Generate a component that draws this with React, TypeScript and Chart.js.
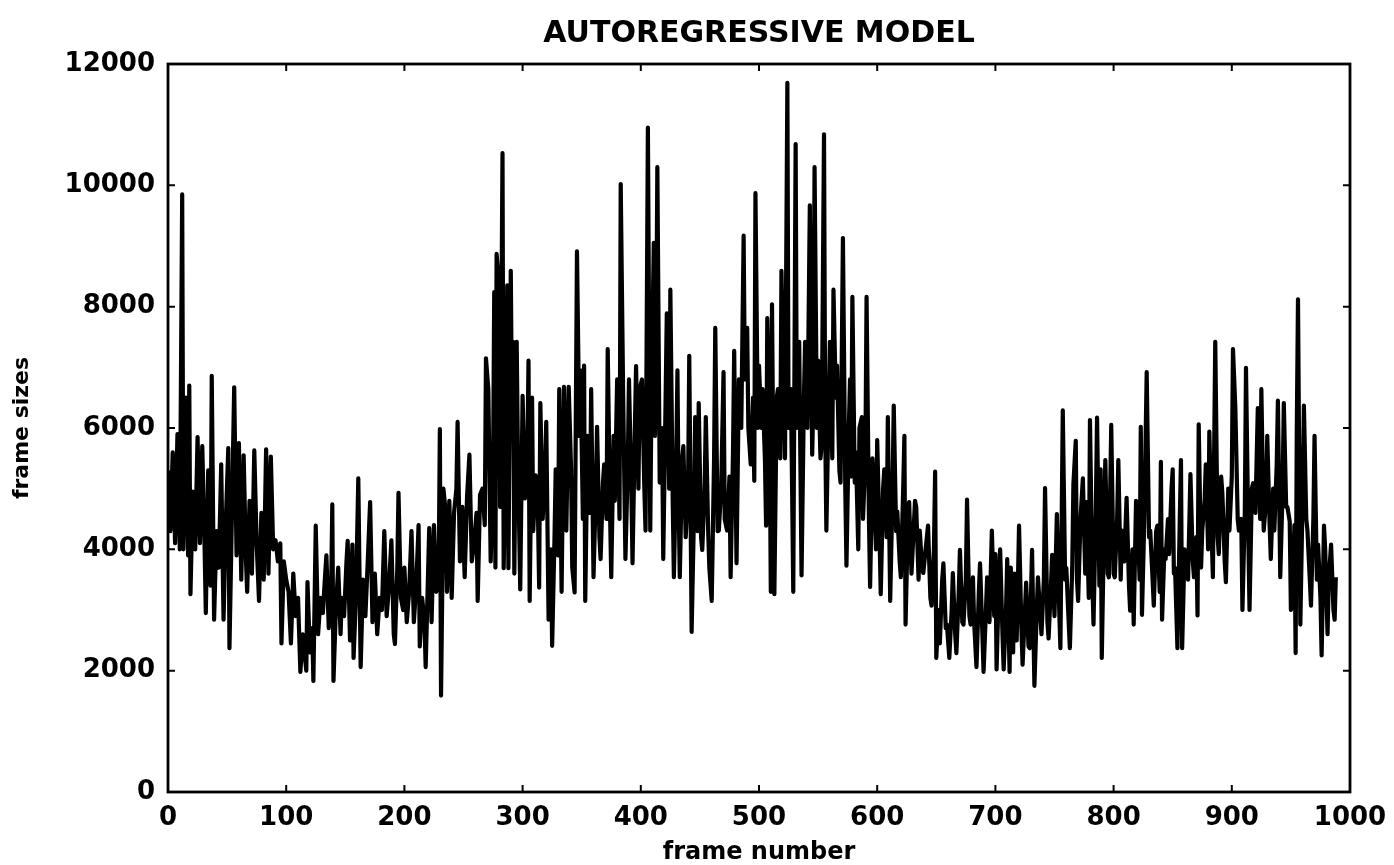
import React, { useEffect, useRef } from "react";
import { Chart, registerables } from "chart.js";

Chart.register(...registerables);

const TITLE = "AUTOREGRESSIVE MODEL";
const X_LABEL = "frame number";
const Y_LABEL = "frame sizes";
const X_TICKS = [0, 100, 200, 300, 400, 500, 600, 700, 800, 900, 1000];
const Y_TICKS = [0, 2000, 4000, 6000, 8000, 10000, 12000];

// [frame number, frame size] samples
const seg0to250: [number, number][] = [
  [0, 5300], [2, 4300], [4, 5600], [6, 4100], [8, 5900], [10, 4000], [12, 9850], [13, 4000],
  [15, 6500], [17, 3900], [18, 6700], [19, 3260], [21, 4950], [23, 4000], [25, 5850], [27, 4100],
  [29, 5700], [31, 4000], [32, 2950], [34, 5300], [36, 3400], [37, 6860], [39, 2840], [41, 4300],
  [43, 3700], [45, 5400], [47, 2840], [49, 4500], [51, 5670], [52, 2370], [54, 4500], [56, 6670],
  [58, 3900], [60, 5750], [62, 3500], [64, 5550], [66, 3800], [67, 3300], [69, 4800], [71, 3600],
  [73, 5630], [75, 4100], [77, 3150], [79, 4600], [81, 3500], [83, 5650], [85, 3600], [87, 5530],
  [89, 4000], [91, 4150], [93, 3800], [95, 4100], [96, 2450], [98, 3800], [100, 3500], [102, 3300],
  [104, 2450], [106, 3600], [108, 2900], [110, 3200], [112, 1980], [114, 2600], [116, 2200], [117, 2000],
  [118, 3460], [120, 2300], [122, 2700], [123, 1830], [125, 4390], [127, 2600], [129, 3200], [131, 2950],
  [133, 3600], [134, 3900], [136, 2700], [138, 3300], [139, 4740], [140, 1830], [142, 3000], [144, 3700],
  [146, 2600], [147, 3200], [149, 2900], [151, 3800], [152, 4140], [154, 2500], [156, 4080], [157, 2210],
  [159, 3200], [161, 5170], [163, 2060], [165, 3500], [167, 2900], [169, 3800], [171, 4780], [173, 2800],
  [175, 3600], [177, 2600], [179, 3200], [181, 3000], [183, 4300], [185, 2900], [187, 3400], [189, 4150],
  [191, 2600], [192, 2440], [194, 3700], [195, 4930], [197, 3200], [199, 3000], [200, 3700], [202, 2800],
  [204, 3300], [206, 4300], [208, 2800], [210, 3400], [212, 4400], [213, 2400], [215, 3200], [217, 2800],
  [218, 2060], [220, 3600], [221, 4350], [223, 2800], [225, 4400], [227, 3300], [229, 3600], [230, 5980],
  [231, 1590], [233, 5000], [235, 4600], [236, 3300], [238, 4800], [240, 3200], [242, 4600], [244, 5000],
  [245, 6100], [247, 3800], [249, 4700],
];

const seg250to500: [number, number][] = [
  [251, 3540], [253, 4860], [255, 5560], [257, 3800], [259, 4100], [261, 4600], [262, 3150], [264, 4900],
  [266, 5000], [268, 4400], [269, 7150], [271, 6640], [273, 3800], [275, 5200], [276, 8240], [277, 3700],
  [278, 8870], [280, 8350], [281, 4700], [283, 10530], [284, 3690], [286, 6000], [287, 8350], [288, 3690],
  [290, 8590], [291, 6200], [292, 7420], [293, 3600], [295, 7420], [296, 5600], [298, 3340], [300, 6530],
  [302, 4840], [304, 5500], [305, 7110], [306, 3150], [308, 6500], [309, 4300], [311, 5220], [313, 4600],
  [314, 3370], [315, 6410], [317, 4500], [319, 5300], [320, 6100], [322, 2840], [324, 4000], [325, 2410],
  [327, 4200], [328, 5320], [330, 3900], [331, 6640], [333, 3300], [335, 6680], [337, 4310], [339, 6680],
  [341, 5320], [342, 3700], [344, 3290], [346, 8910], [348, 5870], [349, 6950], [351, 4500], [352, 7030],
  [353, 3150], [355, 5870], [357, 4600], [358, 6640], [360, 3540], [362, 5000], [363, 6020], [365, 4200],
  [366, 3840], [368, 5100], [369, 5400], [371, 4500], [372, 7300], [374, 4600], [375, 3540], [377, 5870],
  [378, 4800], [380, 6800], [382, 4500], [383, 10020], [385, 6640], [387, 3840], [389, 5400], [390, 6800],
  [392, 5000], [393, 3770], [395, 6000], [396, 7020], [398, 5000], [399, 6640], [401, 6800], [403, 5000],
  [404, 4310], [406, 10950], [408, 4310], [409, 6500], [411, 9050], [412, 5870], [413, 7200], [414, 10300],
  [416, 5100], [418, 6000], [419, 3840], [421, 6500], [422, 7890], [424, 5000], [425, 8280], [427, 4800],
  [428, 3540], [430, 5500], [431, 6950], [432, 4800], [433, 3540], [435, 5500], [436, 5700], [438, 4200],
  [440, 5000], [441, 7190], [443, 2640], [445, 4600], [446, 6180], [448, 4300], [449, 6410], [451, 4200],
  [452, 3990], [454, 5000], [455, 6180], [457, 4300], [458, 3690], [460, 3150], [462, 5500], [463, 7650],
  [465, 4300], [466, 4310], [468, 5000], [470, 6920], [471, 4500], [473, 4310], [475, 5200], [476, 3540],
  [478, 5600], [479, 7270], [481, 3770], [483, 6800], [485, 6000], [487, 9170], [488, 6800], [490, 7650],
  [491, 6000], [493, 5400], [495, 6500], [496, 5130], [497, 9870], [499, 6000],
];

const seg500to750: [number, number][] = [
  [500, 7030], [502, 6000], [503, 6640], [505, 5500], [506, 4390], [507, 7810], [509, 6000], [510, 3300],
  [511, 8040], [513, 3260], [515, 6500], [516, 6640], [518, 5500], [519, 8590], [521, 6500], [522, 5500],
  [524, 11690], [525, 6000], [527, 6640], [528, 5000], [529, 3300], [531, 10680], [532, 6000], [534, 7420],
  [535, 5500], [536, 3570], [538, 6500], [539, 7420], [541, 6000], [543, 9670], [545, 5560], [546, 6500],
  [547, 10300], [549, 6000], [550, 7110], [552, 5500], [553, 5710], [555, 10840], [556, 6000], [557, 4310],
  [559, 6500], [560, 7420], [562, 5500], [563, 8280], [565, 6500], [566, 7030], [568, 5300], [569, 5100],
  [571, 9130], [573, 5000], [574, 3730], [576, 6000], [577, 6800], [578, 5200], [579, 8160], [581, 5100],
  [582, 5600], [584, 4000], [585, 6000], [587, 6180], [588, 4500], [590, 5500], [591, 8160], [593, 4500],
  [594, 3380], [596, 5500], [597, 5100], [599, 4000], [600, 5800], [602, 4200], [603, 3260], [605, 5000],
  [606, 5320], [608, 4200], [609, 6180], [611, 3150], [613, 5000], [614, 6370], [616, 4300], [617, 4620],
  [619, 3800], [620, 3540], [622, 5000], [623, 5870], [624, 2760], [626, 4500], [627, 4780], [629, 3600],
  [630, 3990], [632, 4800], [633, 4700], [635, 3500], [636, 4310], [638, 3700], [639, 3610], [641, 4000],
  [643, 4390], [645, 3200], [646, 3070], [648, 4000], [649, 5280], [650, 2210], [652, 3000], [653, 2450],
  [655, 3500], [656, 3770], [658, 2700], [659, 2760], [661, 2210], [663, 3000], [664, 3610], [666, 2600],
  [667, 2290], [669, 3300], [670, 3990], [672, 2800], [673, 2760], [675, 3500], [676, 4820], [678, 2900],
  [679, 2760], [681, 3540], [682, 2800], [684, 2060], [686, 3300], [687, 3770], [689, 2600], [690, 1980],
  [692, 3000], [693, 3540], [695, 2800], [697, 4310], [699, 2900], [700, 3920], [701, 2020], [703, 3500],
  [704, 4000], [706, 2600], [707, 2020], [709, 3000], [710, 3840], [712, 1980], [713, 3700], [715, 2300],
  [716, 3600], [718, 2500], [719, 3400], [720, 4390], [722, 2700], [723, 2100], [725, 3000], [726, 3450],
  [728, 2400], [729, 2370], [731, 3990], [733, 1750], [735, 3000], [736, 3540], [738, 2900], [739, 2600],
  [741, 3500], [742, 5010], [744, 2800], [745, 2530], [747, 3400], [748, 3910],
];

const seg750to1000: [number, number][] = [
  [750, 2900], [752, 4580], [754, 3000], [755, 2370], [757, 6290], [759, 3500], [760, 3690], [762, 2800],
  [763, 2370], [765, 3700], [766, 5080], [768, 5790], [769, 3500], [770, 3150], [772, 4500], [774, 5170],
  [776, 3600], [777, 4780], [779, 3200], [780, 6130], [782, 3500], [783, 2760], [785, 4700], [786, 6170],
  [788, 3400], [789, 5320], [790, 2210], [792, 4500], [793, 5470], [795, 3600], [796, 3540], [798, 6050],
  [800, 3600], [801, 3540], [803, 4500], [804, 5470], [806, 3500], [807, 4310], [809, 3800], [811, 4850],
  [813, 3400], [814, 2990], [816, 4000], [817, 2760], [819, 4800], [820, 4700], [822, 3500], [823, 6020],
  [824, 2920], [826, 4500], [828, 6920], [830, 4200], [831, 4310], [833, 3500], [834, 3070], [836, 4300],
  [837, 4390], [839, 3300], [840, 5440], [841, 2840], [843, 4000], [844, 3840], [846, 4500], [847, 3920],
  [849, 5000], [850, 5320], [851, 3600], [852, 3690], [854, 2370], [856, 4500], [857, 5470], [858, 2370],
  [860, 4000], [861, 3920], [863, 3500], [865, 5240], [867, 3800], [868, 3540], [870, 4200], [871, 2910],
  [872, 6060], [874, 3700], [875, 4310], [877, 4800], [878, 5400], [880, 4000], [881, 5940], [883, 4200],
  [884, 3540], [886, 7420], [888, 4200], [889, 3920], [891, 5200], [892, 4930], [894, 3800], [895, 3460],
  [897, 5000], [898, 4310], [900, 5200], [901, 7300], [903, 6330], [905, 4500], [906, 4310], [908, 4500],
  [909, 3000], [911, 4600], [912, 6990], [914, 4200], [915, 3000], [917, 5000], [918, 5090], [920, 4600],
  [922, 6330], [924, 4500], [925, 6640], [927, 4310], [929, 4800], [930, 5870], [932, 4400], [933, 3840],
  [935, 5000], [936, 4310], [938, 5400], [939, 6450], [941, 3540], [943, 5000], [944, 6410], [946, 4700],
  [947, 4700], [949, 4460], [950, 3000], [951, 3150], [953, 4400], [954, 2290], [955, 6000], [956, 8120],
  [958, 2760], [960, 5000], [961, 6370], [963, 4500], [964, 4310], [966, 3500], [967, 3070], [969, 4500],
  [970, 5870], [972, 3500], [973, 4080], [975, 3200], [976, 2250], [978, 4390], [979, 4000], [981, 2600],
  [982, 3500], [984, 4080], [986, 3000], [987, 2840], [988, 3540],
];

const samples = [...seg0to250, ...seg250to500, ...seg500to750, ...seg750to1000];

const FONT = "'DejaVu Sans', sans-serif";

const boxTicks = {
  id: "boxTicks",
  afterDatasetsDraw(chart: any) {
    const { ctx, chartArea, scales } = chart;
    const { left, right, top, bottom } = chartArea;
    const x = scales.x;
    const y = scales.y;
    ctx.save();
    ctx.strokeStyle = "#000";
    ctx.lineWidth = 2.8;
    ctx.strokeRect(left, top, right - left, bottom - top);
    ctx.lineWidth = 2;
    const len = 7;
    ctx.beginPath();
    X_TICKS.forEach((v) => {
      const px = x.getPixelForValue(v);
      ctx.moveTo(px, bottom);
      ctx.lineTo(px, bottom - len);
      ctx.moveTo(px, top);
      ctx.lineTo(px, top + len);
    });
    Y_TICKS.forEach((v) => {
      const py = y.getPixelForValue(v);
      ctx.moveTo(left, py);
      ctx.lineTo(left + len, py);
      ctx.moveTo(right, py);
      ctx.lineTo(right - len, py);
    });
    ctx.stroke();
    ctx.restore();
  },
};

export default function App() {
  const ref = useRef<HTMLCanvasElement | null>(null);
  useEffect(() => {
    if (!ref.current) return;
    const chart = new Chart(ref.current, {
      type: "line",
      data: {
        datasets: [
          {
            data: samples.map(([f, s]) => ({ x: f, y: s })),
            borderColor: "#000",
            borderWidth: 4.2,
            borderJoinStyle: "round",
            pointRadius: 0,
            tension: 0,
            fill: false,
          },
        ],
      },
      options: {
        animation: false,
        responsive: false,
        layout: { padding: { left: 0, right: 44, top: 0, bottom: 0 } },
        plugins: {
          legend: { display: false },
          tooltip: { enabled: false },
          title: {
            display: true,
            text: TITLE,
            fullSize: false,
            color: "#000",
            font: { family: FONT, size: 30, weight: "bold", lineHeight: 1.2 },
            padding: { top: 16, bottom: 12 },
          },
        },
        scales: {
          x: {
            type: "linear",
            min: 0,
            max: 1000,
            afterFit: (s: any) => {
              s.height = 73;
              s.paddingRight = 0;
              s.paddingLeft = 0;
            },
            afterBuildTicks: (s: any) => {
              s.ticks = X_TICKS.map((v) => ({ value: v }));
            },
            grid: { display: false, drawTicks: false },
            border: { display: false },
            ticks: {
              color: "#000",
              padding: 11,
              maxRotation: 0,
              autoSkip: false,
              callback: (v: any) => String(v),
              font: { family: FONT, size: 26, weight: "bold" },
            },
            title: {
              display: true,
              text: X_LABEL,
              color: "#000",
              font: { family: FONT, size: 24, weight: "bold", lineHeight: 1 },
              padding: { top: 0, bottom: 0 },
            },
          },
          y: {
            type: "linear",
            min: 0,
            max: 12000,
            afterFit: (s: any) => {
              s.width = 168;
              s.paddingTop = 0;
              s.paddingBottom = 0;
            },
            afterBuildTicks: (s: any) => {
              s.ticks = Y_TICKS.map((v) => ({ value: v }));
            },
            grid: { display: false, drawTicks: false },
            border: { display: false },
            ticks: {
              color: "#000",
              padding: 13,
              autoSkip: false,
              callback: (v: any) => String(v),
              font: { family: FONT, size: 26, weight: "bold" },
            },
            title: {
              display: true,
              text: Y_LABEL,
              color: "#000",
              font: { family: FONT, size: 22, weight: "bold", lineHeight: 1 },
              padding: { top: 11, bottom: 0 },
            },
          },
        },
      },
      plugins: [boxTicks],
    } as any);
    return () => chart.destroy();
  }, []);
  return (
    <div style={{ position: "fixed", left: 0, top: 0, width: 1394, height: 865, background: "#fff" }}>
      <canvas ref={ref} width={1394} height={865} style={{ display: "block" }} />
    </div>
  );
}
